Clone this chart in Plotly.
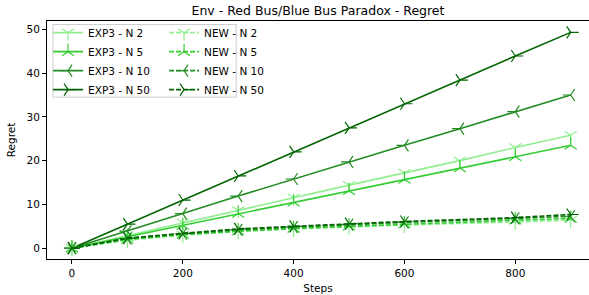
import plotly.graph_objects as go

steps = [0, 100, 200, 300, 400, 500, 600, 700, 800, 900]
exp3_n2 = [0, 2.9, 5.8, 8.6, 11.5, 14.4, 17.2, 20.0, 23.0, 25.8]
exp3_n5 = [0, 2.6, 5.2, 7.9, 10.5, 13.1, 15.7, 18.3, 20.9, 23.5]
exp3_n10 = [0, 3.9, 7.9, 11.9, 15.8, 19.7, 23.5, 27.3, 31.2, 35.0]
exp3_n50 = [0, 5.5, 11.0, 16.5, 22.0, 27.5, 33.0, 38.4, 43.9, 49.3]

new_steps = [0, 100, 200, 300, 400, 500, 600, 800, 900]
new_n2 = [0, 1.8, 3.0, 3.8, 4.4, 4.9, 5.3, 6.0, 6.4]
new_n5 = [0, 2.0, 3.1, 3.9, 4.5, 5.0, 5.5, 6.4, 6.8]
new_n10 = [0, 2.2, 3.3, 4.2, 4.8, 5.4, 5.9, 6.8, 7.3]
new_n50 = [0, 2.3, 3.4, 4.4, 5.0, 5.6, 6.1, 7.0, 7.7]

labels_n = ["N 2", "N 5", "N 10", "N 50"]
colors = ["#90EE90", "#32CD32", "#228B22", "#006400"]
symbols = ["y-down", "y-up", "y-left", "y-right"]

FONT = "DejaVu Sans"
fig = go.Figure()

for vals, lab, col, sym in zip([exp3_n2, exp3_n5, exp3_n10, exp3_n50], labels_n, colors, symbols):
    fig.add_trace(go.Scatter(
        x=steps, y=vals, mode="lines+markers", name=f"EXP3 - {lab}",
        line=dict(color=col, width=1.6),
        marker=dict(symbol=sym, size=10, color=col, line=dict(color=col, width=1.2)),
        legend="legend",
    ))

for vals, lab, col, sym in zip([new_n2, new_n5, new_n10, new_n50], labels_n, colors, symbols):
    fig.add_trace(go.Scatter(
        x=new_steps, y=vals, mode="lines+markers", name=f"NEW - {lab}",
        line=dict(color=col, width=1.6, dash="5px,2px"),
        marker=dict(symbol=sym, size=10, color=col, line=dict(color=col, width=1.2)),
        legend="legend2",
    ))

fig.add_shape(type="rect", xref="paper", yref="paper",
              x0=0.011, x1=0.349, y0=0.68, y1=0.985,
              line=dict(color="#cccccc", width=1), fillcolor="rgba(255,255,255,0.8)",
              layer="above")

legend_common = dict(bgcolor="rgba(0,0,0,0)", borderwidth=0,
                     font=dict(family=FONT, size=10.5, color="#000000"),
                     xanchor="left", yanchor="top", tracegroupgap=0)

fig.update_layout(
    width=589, height=295,
    margin=dict(l=47, r=0, t=21, b=36),
    paper_bgcolor="white", plot_bgcolor="white",
    font=dict(family=FONT, size=10.5, color="#000000"),
    title=dict(text="Env - Red Bus/Blue Bus Paradox - Regret", x=0.5, xref="paper",
               y=1 - 11 / 295, yanchor="middle", xanchor="center",
               font=dict(family=FONT, size=12.5, color="#000000")),
    legend=dict(x=0.002, y=1.012, **legend_common),
    legend2=dict(x=0.216, y=1.012, **legend_common),
    xaxis=dict(range=[-45, 933], tickvals=[0, 200, 400, 600, 800], automargin=False,
               showgrid=False, zeroline=False, showline=True, linecolor="black",
               linewidth=1, mirror=True, ticks="outside", ticklen=4, tickcolor="black",
               tickfont=dict(family=FONT, size=10.5, color="#000000"),
               title=dict(text="Steps", font=dict(family=FONT, size=10.5), standoff=7)),
    yaxis=dict(range=[-2.47, 51.9], tickvals=[0, 10, 20, 30, 40, 50], automargin=False,
               showgrid=False, zeroline=False, showline=True, linecolor="black",
               linewidth=1, ticks="outside", ticklen=4, tickcolor="black",
               tickfont=dict(family=FONT, size=10.5, color="#000000"),
               title=dict(text="Regret", font=dict(family=FONT, size=10.5), standoff=8)),
)

fig.write_html("out.html", config={"displayModeBar": False},
               post_script="document.body.style.margin='0';")
